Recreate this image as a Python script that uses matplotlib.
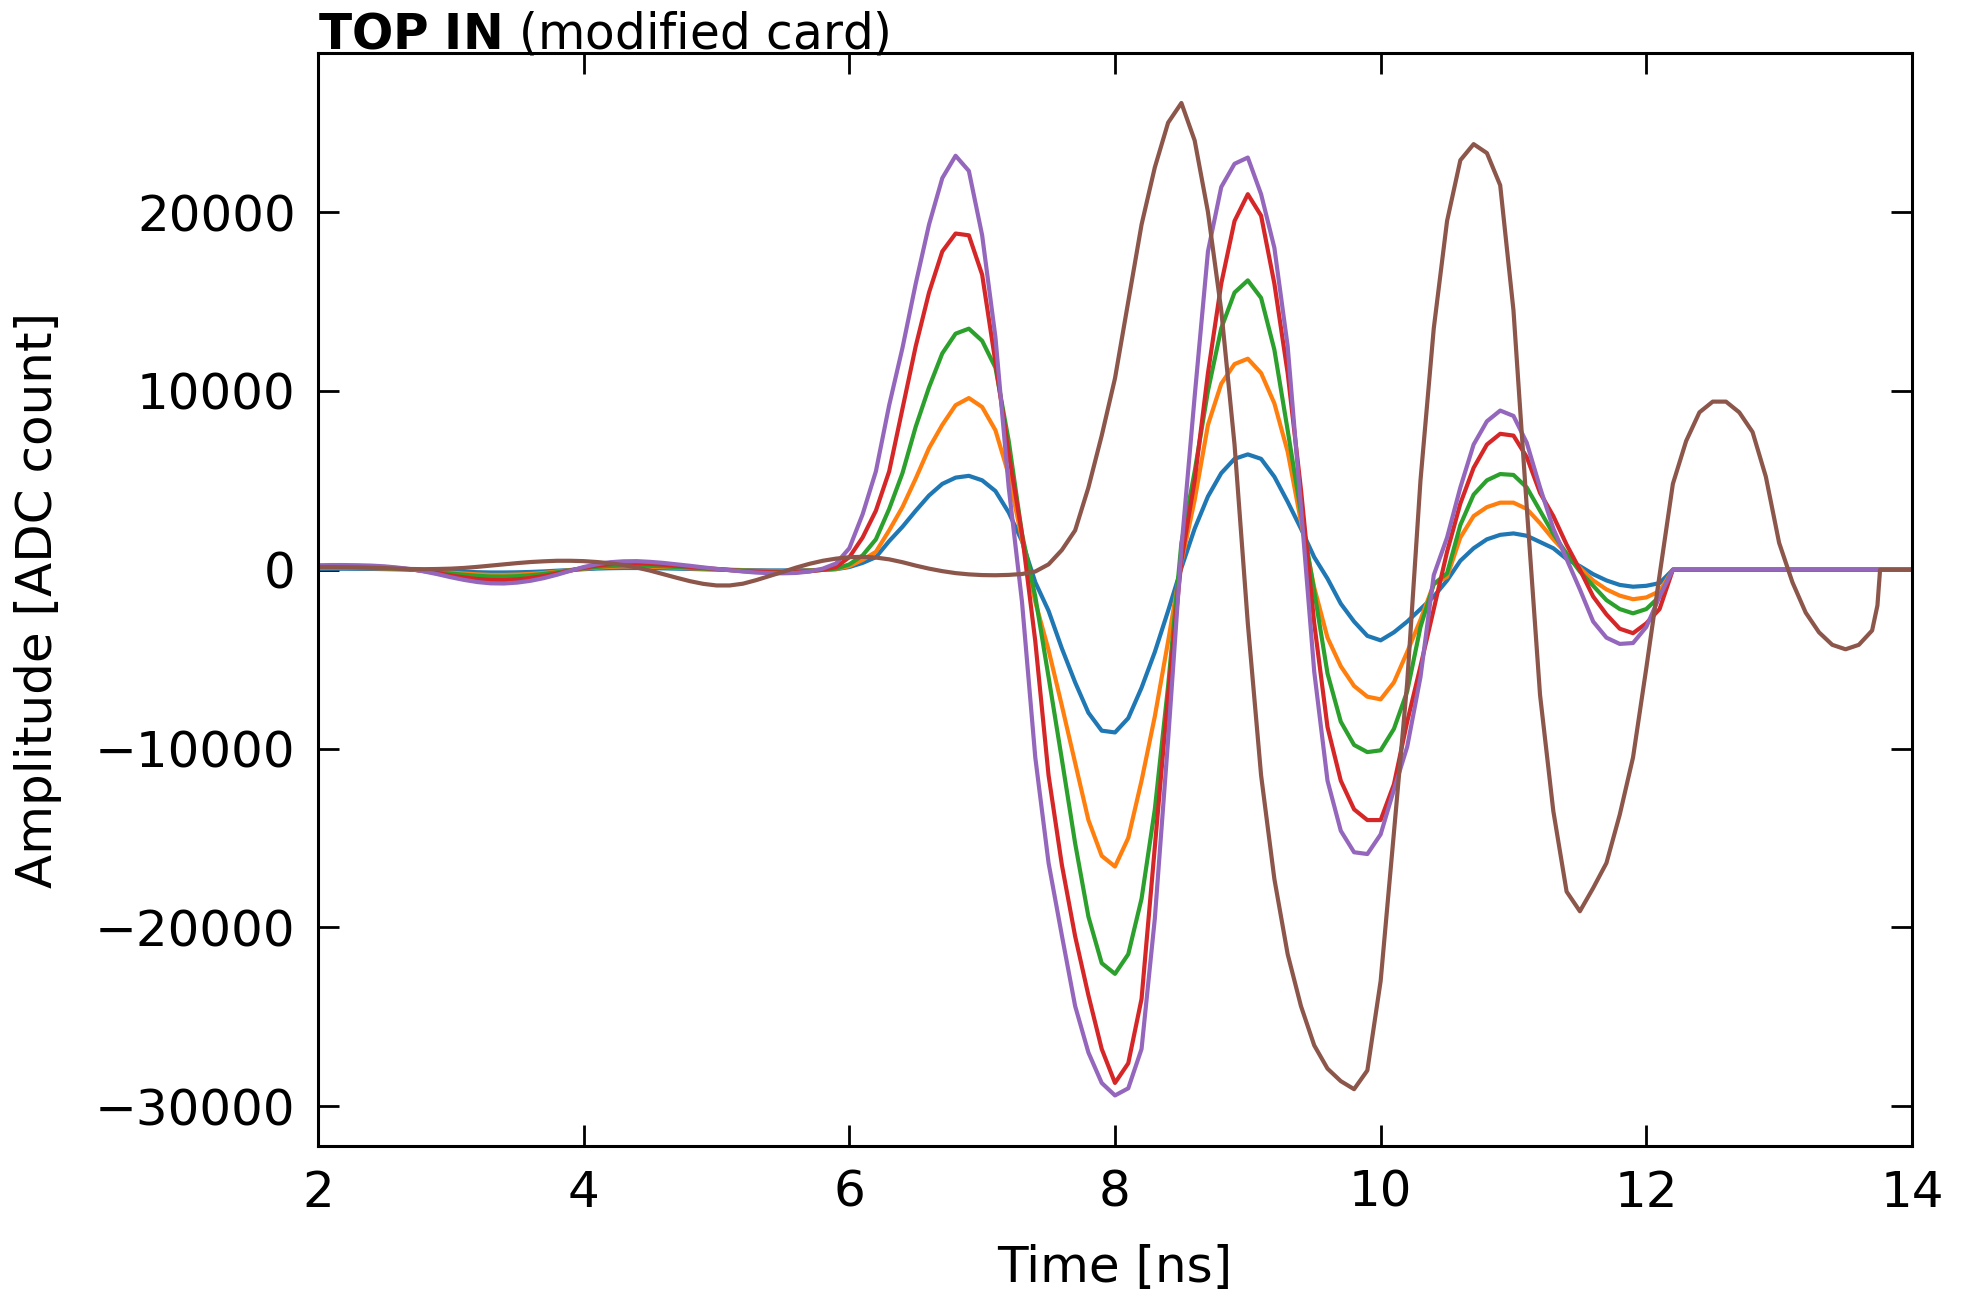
import numpy as np
import matplotlib
matplotlib.use("Agg")
import matplotlib.pyplot as plt

# time grid (ns) for the five scaled pulses, and for the brown pulse
time_main = [round(2.0 + 0.1 * i, 2) for i in range(102)] + [12.2, 14.0]
time_brown = [round(2.0 + 0.1 * i, 2) for i in range(118)] + [13.74, 13.76, 14.0]

blue = [50, 55, 55, 50, 45, 35, 20, 5, -20, -50,
        -85, -115, -140, -155, -155, -145, -125, -95, -55, -15,
        30, 65, 85, 95, 95, 90, 75, 60, 45, 25,
        10, -5, -20, -30, -40, -40, -35, -25, -5, 30,
        150, 380, 700, 1600, 2400, 3300, 4150, 4800, 5150, 5250,
        5000, 4400, 3200, 1600, -700, -2300, -4400, -6300, -8000, -9000,
        -9100, -8300, -6600, -4600, -2300, 100, 2300, 4100, 5400, 6200,
        6450, 6200, 5200, 3800, 2300, 700, -500, -1900, -2900, -3700,
        -3950, -3500, -2900, -2200, -1500, -600, 500, 1200, 1700, 1950,
        2030, 1900, 1550, 1200, 600, 200, -250, -600, -850, -950,
        -900, -750, 0, 0]

orange = [100, 100, 100, 95, 85, 70, 45, 10, -40, -95,
          -160, -215, -260, -290, -290, -270, -235, -180, -105, -25,
          55, 120, 160, 180, 180, 165, 145, 115, 80, 50,
          20, -10, -40, -60, -70, -75, -70, -45, -10, 40,
          200, 550, 1000, 2200, 3500, 5100, 6800, 8100, 9200, 9600,
          9100, 7800, 5300, 1700, -1800, -4490, -7600, -10800, -14000, -16000,
          -16600, -15000, -11800, -8200, -4000, 400, 3900, 8100, 10400, 11500,
          11800, 11000, 9300, 6600, 2700, -1000, -3800, -5400, -6500, -7100,
          -7250, -6300, -4600, -2800, -800, -400, 1800, 3000, 3500, 3750,
          3750, 3400, 2600, 1700, 900, 100, -600, -1100, -1450, -1650,
          -1550, -1200, 0, 0]

green = [130, 130, 130, 125, 115, 95, 60, 15, -50, -125,
         -210, -280, -340, -380, -385, -360, -310, -235, -140, -30,
         75, 155, 210, 235, 240, 220, 190, 150, 110, 65,
         25, -15, -50, -80, -95, -100, -90, -60, -10, 60,
         300, 800, 1700, 3400, 5400, 8000, 10200, 12100, 13200, 13480,
         12800, 11300, 7200, 2000, -1500, -6000, -10600, -15300, -19400, -22000,
         -22600, -21500, -18400, -13400, -6500, 1500, 5500, 10000, 13500, 15500,
         16180, 15200, 12300, 7800, 3200, -1200, -5800, -8500, -9800, -10200,
         -10100, -8900, -6800, -3200, -800, -200, 2500, 4200, 5000, 5350,
         5300, 4600, 3300, 2000, 900, -100, -900, -1700, -2200, -2440,
         -2200, -1500, 0, 0]

red = [190, 195, 195, 190, 170, 140, 90, 20, -80, -190,
       -320, -430, -520, -570, -580, -540, -460, -350, -210, -50,
       110, 230, 310, 350, 360, 330, 280, 220, 160, 100,
       40, -20, -80, -120, -140, -150, -140, -90, 0, 150,
       700, 1800, 3300, 5500, 9000, 12500, 15500, 17800, 18800, 18700,
       16500, 11600, 6500, 2000, -4000, -11500, -16500, -20500, -23800, -26800,
       -28700, -27600, -24000, -15500, -7000, 500, 5000, 11000, 16000, 19500,
       21000, 19800, 16000, 11000, 4500, -3000, -8800, -11800, -13400, -14000,
       -14000, -12000, -8500, -5400, -2200, 1000, 3700, 5700, 7000, 7600,
       7500, 6300, 4300, 3000, 1400, 0, -1500, -2500, -3300, -3550,
       -3000, -2200, 0, 0]

purple = [250, 260, 260, 250, 230, 190, 120, 30, -100, -250,
          -420, -570, -690, -760, -770, -720, -620, -470, -280, -60,
          150, 310, 420, 470, 480, 440, 380, 300, 220, 130,
          50, -30, -100, -160, -190, -200, -180, -100, 60, 350,
          1200, 3100, 5500, 9200, 12400, 16000, 19300, 21900, 23150, 22300,
          18700, 13000, 4600, -1800, -10500, -16400, -20450, -24400, -27000, -28700,
          -29400, -29000, -26800, -19500, -9500, 1200, 9700, 17800, 21400, 22700,
          23050, 21000, 18000, 12500, 3500, -5700, -11800, -14600, -15800, -15900,
          -14800, -12300, -9900, -6000, -300, 1800, 4600, 7000, 8300, 8900,
          8600, 7100, 4600, 2300, 600, -1100, -2900, -3800, -4150, -4100,
          -3200, -1500, 0, 0]

brown = [150, 150, 140, 130, 110, 90, 60, 40, 30, 40,
         60, 100, 160, 230, 300, 370, 430, 470, 500, 500,
         480, 430, 360, 260, 120, -50, -250, -450, -640, -790,
         -880, -880, -780, -580, -350, -120, 120, 330, 500, 620,
         700, 720, 680, 580, 420, 230, 60, -80, -190, -260,
         -300, -310, -290, -240, -100, 300, 1100, 2200, 4600, 7500,
         10700, 15000, 19300, 22500, 25000, 26100, 24000, 20000, 14500, 7000,
         -3000, -11500, -17300, -21500, -24400, -26600, -27900, -28600, -29050, -28000,
         -23000, -14700, -6300, 5000, 13500, 19500, 22900, 23800, 23300, 21500,
         14500, 3500, -7000, -13500, -18000, -19100, -17800, -16400, -13700, -10500,
         -5500, -300, 4800, 7200, 8800, 9400, 9400, 8800, 7700, 5200,
         1500, -700, -2400, -3500, -4200, -4450, -4200, -3400, -2000, 0, 0]

series = [("blue", blue, "#1f77b4"), ("orange", orange, "#ff7f0e"),
          ("green", green, "#2ca02c"), ("red", red, "#d62728"),
          ("purple", purple, "#9467bd")]

plt.rcParams["font.family"] = ["DejaVu Sans"]
plt.rcParams["mathtext.fontset"] = "dejavusans"

fig = plt.figure(figsize=(19.63, 12.91), dpi=100)
ax = fig.add_axes([0.162, 0.112, 0.812, 0.847])

for name, vals, col in series:
    ax.plot(time_main, vals, color=col, lw=3.0, solid_joinstyle="round")
ax.plot(time_brown, brown, color="#8c564b", lw=3.0, solid_joinstyle="round")

ax.set_xlim(2, 14)
ax.set_ylim(-32250, 28900)
ax.set_xticks([2, 4, 6, 8, 10, 12, 14])
ax.set_yticks([-30000, -20000, -10000, 0, 10000, 20000])

fs = 36
ax.tick_params(direction="in", top=True, right=True, length=15, width=2,
               labelsize=fs, pad=16)
for s in ax.spines.values():
    s.set_linewidth(2.2)

ax.set_xlabel("Time [ns]", fontsize=fs, labelpad=20)
ax.set_ylabel("Amplitude [ADC count]", fontsize=fs, labelpad=24)
ax.set_title(r"$\mathbf{TOP\ IN}$ (modified card)", loc="left", fontsize=35, pad=3)

fig.savefig("out.png", dpi=100)
